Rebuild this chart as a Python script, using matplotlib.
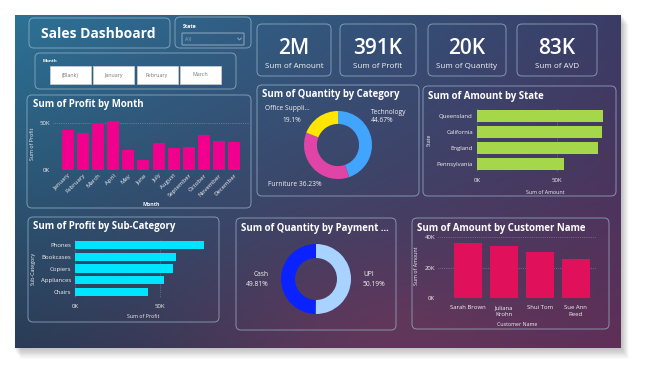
import numpy as np
import matplotlib
matplotlib.use('Agg')
import matplotlib.pyplot as plt
from matplotlib.patches import FancyBboxPatch, Rectangle
from matplotlib.ticker import FuncFormatter

plt.rcParams['font.family'] = ['Open Sans', 'DejaVu Sans']

# ---- data ----
kpi_values = ['2M', '391K', '20K', '83K']
kpi_labels = ['Sum of Amount', 'Sum of Profit', 'Sum of Quantity', 'Sum of AVD']

month_slicer = ['(Blank)', 'January', 'February', 'March']

months = ['January', 'February', 'March', 'April', 'May', 'June', 'July',
          'August', 'September', 'October', 'November', 'December']
month_profit = [42500, 38700, 49600, 51400, 21300, 11000, 28400,
                23000, 24100, 36900, 30900, 30100]

categories = ['Technology', 'Furniture', 'Office Supplies']
category_qty = [44.67, 36.23, 19.1]

states = ['Queensland', 'California', 'England', 'Pennsylvania']
state_amount = [78700, 78100, 75400, 54400]

subcats = ['Phones', 'Bookcases', 'Copiers', 'Appliances', 'Chairs']
subcat_profit = [76000, 59600, 57900, 52200, 43100]

payments = ['UPI', 'Cash']
payment_qty = [50.19, 49.81]

customers = ['Sarah Brown', 'Juliana\nKrohn', 'Shui Tom', 'Sue Ann\nReed']
customer_amount = [35800, 34300, 30200, 25800]

W, H = 652, 375
fig = plt.figure(figsize=(W / 100, H / 100), dpi=100)
fig.patch.set_facecolor('white')

base = fig.add_axes([0, 0, 1, 1])
base.set_xlim(0, W)
base.set_ylim(H, 0)
base.axis('off')

TXT = '#f2f2f2'
EDGE = '#9fb9cc'
kfmt = FuncFormatter(lambda v, p: f'{v / 1000:.0f}K')


def fax(x0, y0, x1, y1):
    a = fig.add_axes([x0 / W, 1 - y1 / H, (x1 - x0) / W, (y1 - y0) / H])
    a.patch.set_alpha(0)
    for s in a.spines.values():
        s.set_visible(False)
    a.tick_params(length=0, colors=TXT, labelsize=4.3)
    return a


def box(x0, y0, x1, y1, r=5, fc='none', ec=EDGE, lw=0.7, alpha=0.7):
    base.add_patch(FancyBboxPatch((x0, y0), x1 - x0, y1 - y0,
                                  boxstyle=f'round,pad=0,rounding_size={r}',
                                  fc=fc, ec=ec, lw=lw, alpha=alpha))


# shadow
for i in range(12):
    base.add_patch(Rectangle((14 + i * 0.6, 14 + i * 0.9), 608, 335,
                             fc='black', ec='none', alpha=0.02))

# gradient background
gx, gy = np.meshgrid(np.linspace(0, 1, 300), np.linspace(0, 1, 160))
tl = np.array([44, 114, 150]) / 255
tr = np.array([58, 60, 102]) / 255
bl = np.array([42, 60, 86]) / 255
br = np.array([92, 46, 86]) / 255
img = ((1 - gx)[..., None] * (1 - gy)[..., None] * tl + gx[..., None] * (1 - gy)[..., None] * tr
       + (1 - gx)[..., None] * gy[..., None] * bl + gx[..., None] * gy[..., None] * br)
blob = np.exp(-(((gx - 0.62) / 0.3) ** 2 + ((gy - 1.0) / 0.3) ** 2))
img = img * (1 - 0.45 * blob[..., None]) + 0.45 * blob[..., None] * np.array([128, 58, 96]) / 255
base.imshow(np.clip(img, 0, 1), extent=[15, 621, 348, 15], aspect='auto', zorder=1)

# title + slicers
box(29, 18, 170, 48)
base.text(41, 34, 'Sales Dashboard', color='white', fontsize=10, fontweight='bold', va='center')
box(175, 17, 251, 48)
base.text(183, 27, 'State', color='white', fontsize=3.8, fontweight='bold', va='center')
box(182, 33, 244, 45, r=0.5, ec='#a9bfcf', alpha=0.8)
base.text(185, 39.5, 'All', color='#8ea6b8', fontsize=3.8, va='center')
base.plot([237.5, 239.5, 241.5], [38, 40, 38], color='#a9bfcf', lw=0.5)
box(35, 53, 236, 89)
base.text(43, 61, 'Month', color='white', fontsize=3.2, fontweight='bold', va='center')
for i, m in enumerate(month_slicer):
    x = 50 + i * 43.3
    base.add_patch(Rectangle((x, 66), 41, 18, fc='white', ec='#cfcfcf', lw=0.5))
    base.text(x + 20.5, 75, m, color='#777777', fontsize=3.8, ha='center', va='center')

# KPI cards
cards = [(257, 331), (340, 416), (428, 506), (517, 597)]
for (x0, x1), v, lab in zip(cards, kpi_values, kpi_labels):
    box(x0, 24, x1, 76)
    base.text((x0 + x1) / 2, 48, v, color='white', fontsize=15, fontweight='semibold',
              ha='center', va='center')
    base.text((x0 + x1) / 2, 67, lab, color=TXT, fontsize=5.8, ha='center', va='center')

# panels
box(27, 95, 251, 208)
base.text(33, 105, 'Sum of Profit by Month', color='white', fontsize=6.9, fontweight='bold', va='center')
box(257, 85, 419, 196)
base.text(262, 95, 'Sum of Quantity by Category', color='white', fontsize=6.9, fontweight='bold', va='center')
box(423, 86, 616, 196)
base.text(428, 96, 'Sum of Amount by State', color='white', fontsize=6.9, fontweight='bold', va='center')
box(28, 217, 219, 322)
base.text(33, 227, 'Sum of Profit by Sub-Category', color='white', fontsize=6.9, fontweight='bold', va='center')
box(236, 218, 396, 330)
base.text(241, 229, 'Sum of Quantity by Payment ...', color='white', fontsize=6.9, fontweight='bold', va='center')
box(412, 218, 609, 329)
base.text(417, 228, 'Sum of Amount by Customer Name', color='white', fontsize=6.9, fontweight='bold', va='center')

# profit by month
ax1 = fax(53, 118, 249, 170)
ax1.bar(range(len(months)), month_profit, width=0.8, color='#f0008c')
ax1.set_xlim(-1.0, 12.0)
ax1.set_ylim(0, 55000)
ax1.set_yticks([0, 50000])
ax1.yaxis.set_major_formatter(kfmt)
ax1.yaxis.grid(True, linestyle=':', color='#8aa0b5', lw=0.5)
ax1.set_axisbelow(True)
ax1.set_xticks(range(len(months)))
ax1.set_xticklabels(months, rotation=45, ha='right', rotation_mode='anchor')
ax1.tick_params(axis='y', pad=2)
ax1.tick_params(axis='x', pad=2)
ax1.set_ylabel('Sum of Profit', color=TXT, fontsize=3.8)
ax1.yaxis.set_label_coords(-0.09, 0.5)
ax1.set_xlabel('Month', color=TXT, fontsize=3.8, fontweight='bold')
ax1.xaxis.set_label_coords(0.5, -0.62)

# quantity by category donut
R = 40 / 34
ax2 = fax(298, 105, 378, 185)
ax2.pie(category_qty, colors=['#41a5ff', '#e044a7', '#ffe600'], startangle=90,
        counterclock=False, wedgeprops=dict(width=0.38, edgecolor='none'))
ax2.set_xlim(-R, R)
ax2.set_ylim(-R, R)
base.text(287, 109, 'Office Suppli...', color=TXT, fontsize=4.8, ha='center', va='center')
base.text(301, 121, f'{category_qty[2]}%', color=TXT, fontsize=4.8, ha='right', va='center')
base.text(371, 112, categories[0], color=TXT, fontsize=4.8, ha='left', va='center')
base.text(371, 121, f'{category_qty[0]}%', color=TXT, fontsize=4.8, ha='left', va='center')
base.text(268, 185, f'{categories[1]} {category_qty[1]}%', color=TXT, fontsize=4.8, ha='left', va='center')

# amount by state
ax3 = fax(477, 108, 613, 172)
ax3.barh(range(len(states)), state_amount, height=0.75, color='#a6d64a')
ax3.set_xlim(0, 85000)
ax3.set_ylim(3.5, -0.5)
ax3.set_xticks([0, 50000])
ax3.xaxis.set_major_formatter(kfmt)
ax3.xaxis.grid(True, linestyle=':', color='#7f8fa8', lw=0.5)
ax3.set_axisbelow(True)
ax3.set_yticks(range(len(states)))
ax3.set_yticklabels(states)
ax3.tick_params(axis='x', pad=4.5)
ax3.tick_params(axis='y', pad=3)
ax3.set_ylabel('State', color=TXT, fontsize=3.8)
ax3.yaxis.set_label_coords(-0.33, 0.5)
ax3.set_xlabel('Sum of Amount', color=TXT, fontsize=3.8)
ax3.xaxis.set_label_coords(0.5, -0.28)

# profit by sub-category
ax4 = fax(75, 239, 211, 298)
ax4.barh(range(len(subcats)), subcat_profit, height=0.68, color='#00e5ff')
ax4.set_xlim(0, 80000)
ax4.set_ylim(len(subcats) - 0.5, -0.5)
ax4.set_xticks([0, 50000])
ax4.xaxis.set_major_formatter(kfmt)
ax4.xaxis.grid(True, linestyle=':', color='#7f8fa8', lw=0.5)
ax4.set_axisbelow(True)
ax4.set_yticks(range(len(subcats)))
ax4.set_yticklabels(subcats)
ax4.tick_params(axis='x', pad=4.5)
ax4.tick_params(axis='y', pad=3)
ax4.set_ylabel('Sub-Category', color=TXT, fontsize=3.8)
ax4.yaxis.set_label_coords(-0.29, 0.5)
ax4.set_xlabel('Sum of Profit', color=TXT, fontsize=3.8)
ax4.xaxis.set_label_coords(0.5, -0.27)

# quantity by payment donut
R5 = 41 / 35
ax5 = fax(275, 238, 357, 320)
ax5.pie(payment_qty, colors=['#a8d2ff', '#0a22ff'], startangle=90,
        counterclock=False, wedgeprops=dict(width=0.4, edgecolor='none'))
ax5.set_xlim(-R5, R5)
ax5.set_ylim(-R5, R5)
base.text(269, 275, payments[1], color=TXT, fontsize=4.8, ha='right', va='center')
base.text(269, 285, f'{payment_qty[1]}%', color=TXT, fontsize=4.8, ha='right', va='center')
base.text(363, 275, payments[0], color=TXT, fontsize=4.8, ha='left', va='center')
base.text(363, 285, f'{payment_qty[0]}%', color=TXT, fontsize=4.8, ha='left', va='center')

# amount by customer
ax6 = fax(438, 234, 596, 298)
ax6.bar(range(len(customers)), customer_amount, width=0.78, color='#e0105a')
ax6.set_xlim(-0.83, 3.57)
ax6.set_ylim(0, 42000)
ax6.set_yticks([0, 20000, 40000])
ax6.yaxis.set_major_formatter(kfmt)
ax6.yaxis.grid(True, linestyle=':', color='#8a8fb0', lw=0.5)
ax6.set_axisbelow(True)
ax6.set_xticks(range(len(customers)))
ax6.set_xticklabels(customers, linespacing=1.4)
ax6.tick_params(axis='x', pad=5)
ax6.tick_params(axis='y', pad=2)
ax6.set_ylabel('Sum of Amount', color=TXT, fontsize=3.8)
ax6.yaxis.set_label_coords(-0.12, 0.5)
ax6.set_xlabel('Customer Name', color=TXT, fontsize=3.8)
ax6.xaxis.set_label_coords(0.5, -0.37)

fig.savefig('out.png', dpi=100)
